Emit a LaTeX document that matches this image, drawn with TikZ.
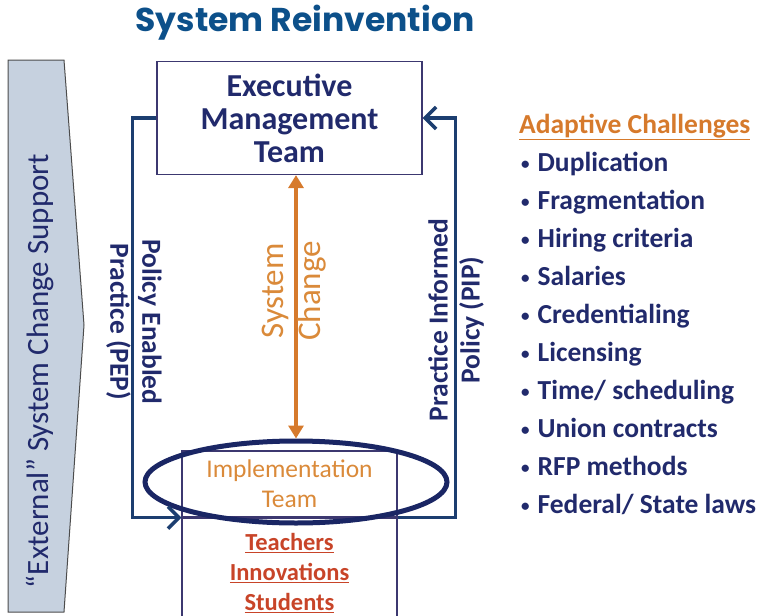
\documentclass[tikz,border=0pt]{standalone}
\usepackage{fontspec}
\setmainfont{Carlito}
\newfontfamily\titlefont{Poppins}
\usetikzlibrary{arrows.meta,positioning,shapes.geometric}
\definecolor{navy}{RGB}{33,42,108}
\definecolor{loopblue}{RGB}{28,62,112}
\definecolor{ringblue}{RGB}{26,38,100}
\definecolor{boxline}{RGB}{60,56,112}
\definecolor{orng}{RGB}{214,122,44}
\definecolor{orngtxt}{RGB}{218,138,58}
\definecolor{redtxt}{RGB}{200,68,40}
\definecolor{titleblue}{RGB}{12,80,138}
\definecolor{extfill}{RGB}{198,209,223}
\newcommand{\dotmark}{\raisebox{2pt}{\fontsize{17}{17}\selectfont\textbullet}\hspace{8pt}}
\tikzset{
  box/.style    ={draw=boxline,line width=1.2pt,inner sep=0pt,align=center},
  ring/.style   ={ellipse,draw=ringblue,line width=5pt,inner sep=0pt},
  loopline/.style={draw=loopblue,line width=3.5pt,-{Straight Barb[length=11pt,width=22pt,line width=3.5pt]}},
  syschg/.style ={draw=orng,line width=4pt,{Triangle[length=13pt,width=15pt]}-{Triangle[length=13pt,width=15pt]}},
  looptxt/.style={text=navy,font=\bfseries\fontsize{27.5}{32}\selectfont,align=center,inner sep=0pt},
  chgtxt/.style ={text=orngtxt,font=\fontsize{33}{37}\selectfont,align=center,inner sep=0pt},
  item/.style   ={anchor=base west,text=navy,font=\bfseries\fontsize{27.5}{30}\selectfont,inner sep=0pt},
}
\begin{document}
\begin{tikzpicture}[x=1pt,y=-1pt]
  \useasboundingbox (0,0) rectangle (761,616);
  \node[text=titleblue,font=\titlefont\bfseries\fontsize{33}{36}\selectfont] (title) at (305,23) {System Reinvention};

  % external support arrow
  \draw[fill=extfill,draw=black!70,line width=1pt] (8,60) -- (64,60) -- (84,325) -- (64,612) -- (8,612) -- cycle;
  \node[rotate=90,text=navy,font=\fontsize{31}{32}\selectfont,inner sep=0pt] (ext) at (40,371) {“External” System Change Support};

  \node[box,minimum width=265,minimum height=113,text=navy,font=\bfseries\fontsize{32}{33}\selectfont] (exec) at (289.5,118) {Executive\\Management\\Team};
  \node[box,minimum width=215,minimum height=66,text=orngtxt,font=\fontsize{25.5}{30}\selectfont] (impl) at (289.5,484) {Implementation\\Team};
  \node[box,minimum width=215,minimum height=110,anchor=north,text=redtxt,font=\bfseries\fontsize{24.5}{30}\selectfont] (users) at (impl.south) {\underline{Teachers}\\\underline{Innovations}\\\underline{Students}};
  \node[ring,minimum width=302,minimum height=82] (oval) at (296,482) {};

  \draw[loopline] (exec.west) -- ++(-24,0) |- (impl.south west);
  \draw[loopline] (impl.south east) -- ++(58,0) |- (exec.east);
  \draw[syschg] (oval.north) -- (oval.north |- exec.south);

  \node[looptxt,rotate=-90] (pep) at (134,322) {Policy Enabled\\Practice (PEP)};
  \node[looptxt,rotate=90] (pip) at (456,320) {Practice Informed\\Policy (PIP)};
  \node[chgtxt,rotate=90] (chg) at (294,291) {System\\Change};

  \node[anchor=base west,text=orng,font=\bfseries\fontsize{27.5}{30}\selectfont,inner sep=0pt] (adapt) at (519,133) {\underline{Adaptive Challenges}};
  \foreach \txt [count=\k] in {Duplication,Fragmentation,Hiring criteria,Salaries,Credentialing,Licensing,Time/ scheduling,Union contracts,RFP methods,Federal/ State laws}
    \node[item] (ch\k) at (521,133+38*\k) {\dotmark\txt};
\end{tikzpicture}
\end{document}
